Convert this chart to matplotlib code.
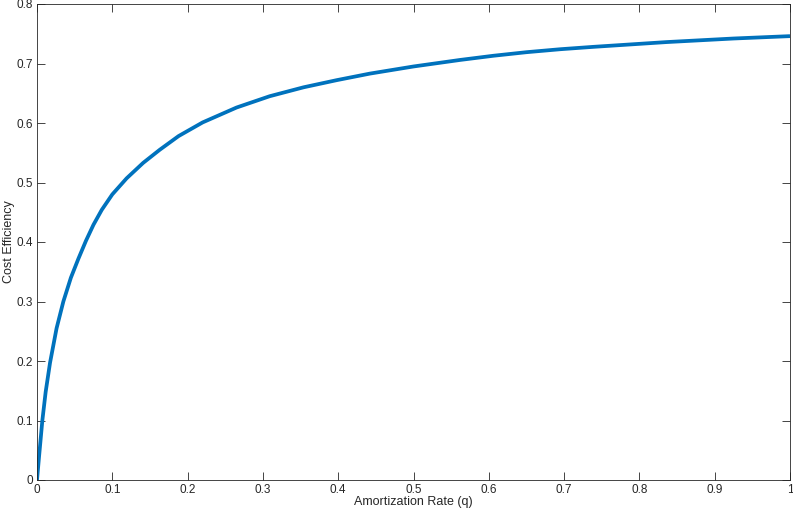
import numpy as np
import matplotlib
matplotlib.use("Agg")
import matplotlib.pyplot as plt

# values
rate = [0, 0.0027, 0.0071, 0.0115, 0.0173, 0.026, 0.035, 0.045, 0.055,
        0.065, 0.075, 0.086, 0.10, 0.119, 0.141, 0.163, 0.188, 0.22,
        0.265, 0.309, 0.354, 0.398, 0.442, 0.5, 0.562, 0.606, 0.65,
        0.695, 0.739, 0.836, 0.925, 1.0]
efficiency = [0, 0.039, 0.10, 0.148, 0.197, 0.255, 0.30, 0.340, 0.372,
              0.402, 0.429, 0.454, 0.480, 0.507, 0.533, 0.555, 0.578, 0.601,
              0.626, 0.645, 0.660, 0.672, 0.683, 0.695, 0.706, 0.713, 0.719,
              0.724, 0.728, 0.736, 0.742, 0.746]

xticks = np.round(np.arange(0, 1.01, 0.1), 1)
yticks = np.round(np.arange(0, 0.81, 0.1), 1)
xticklabels = ["0", "0.1", "0.2", "0.3", "0.4", "0.5", "0.6", "0.7", "0.8", "0.9", "1"]
yticklabels = ["0", "0.1", "0.2", "0.3", "0.4", "0.5", "0.6", "0.7", "0.8"]

plt.rcParams['font.family'] = ['Liberation Sans', 'DejaVu Sans']
axis_color = '#262626'

fig = plt.figure(figsize=(7.93, 5.15), dpi=100)
ax = fig.add_axes([37 / 793, 35 / 515, 753 / 793, 476 / 515])

ax.plot(rate, efficiency, color='#0072BD', linewidth=2.7,
        solid_joinstyle='round', solid_capstyle='butt')

ax.set_xlim(0, 1)
ax.set_ylim(0, 0.8)
ax.set_xticks(xticks)
ax.set_xticklabels(xticklabels)
ax.set_yticks(yticks)
ax.set_yticklabels(yticklabels)

ax.tick_params(direction='in', top=True, right=True, length=5.5, width=0.6,
               colors=axis_color, labelsize=8.5, pad=3)
for s in ax.spines.values():
    s.set_color(axis_color)
    s.set_linewidth(0.6)

ax.set_xlabel('Amortization Rate (q)', fontsize=9, color=axis_color, labelpad=0)
ax.set_ylabel('Cost Efficiency', fontsize=9, color=axis_color, labelpad=1)

fig.savefig('out.png', dpi=100)
